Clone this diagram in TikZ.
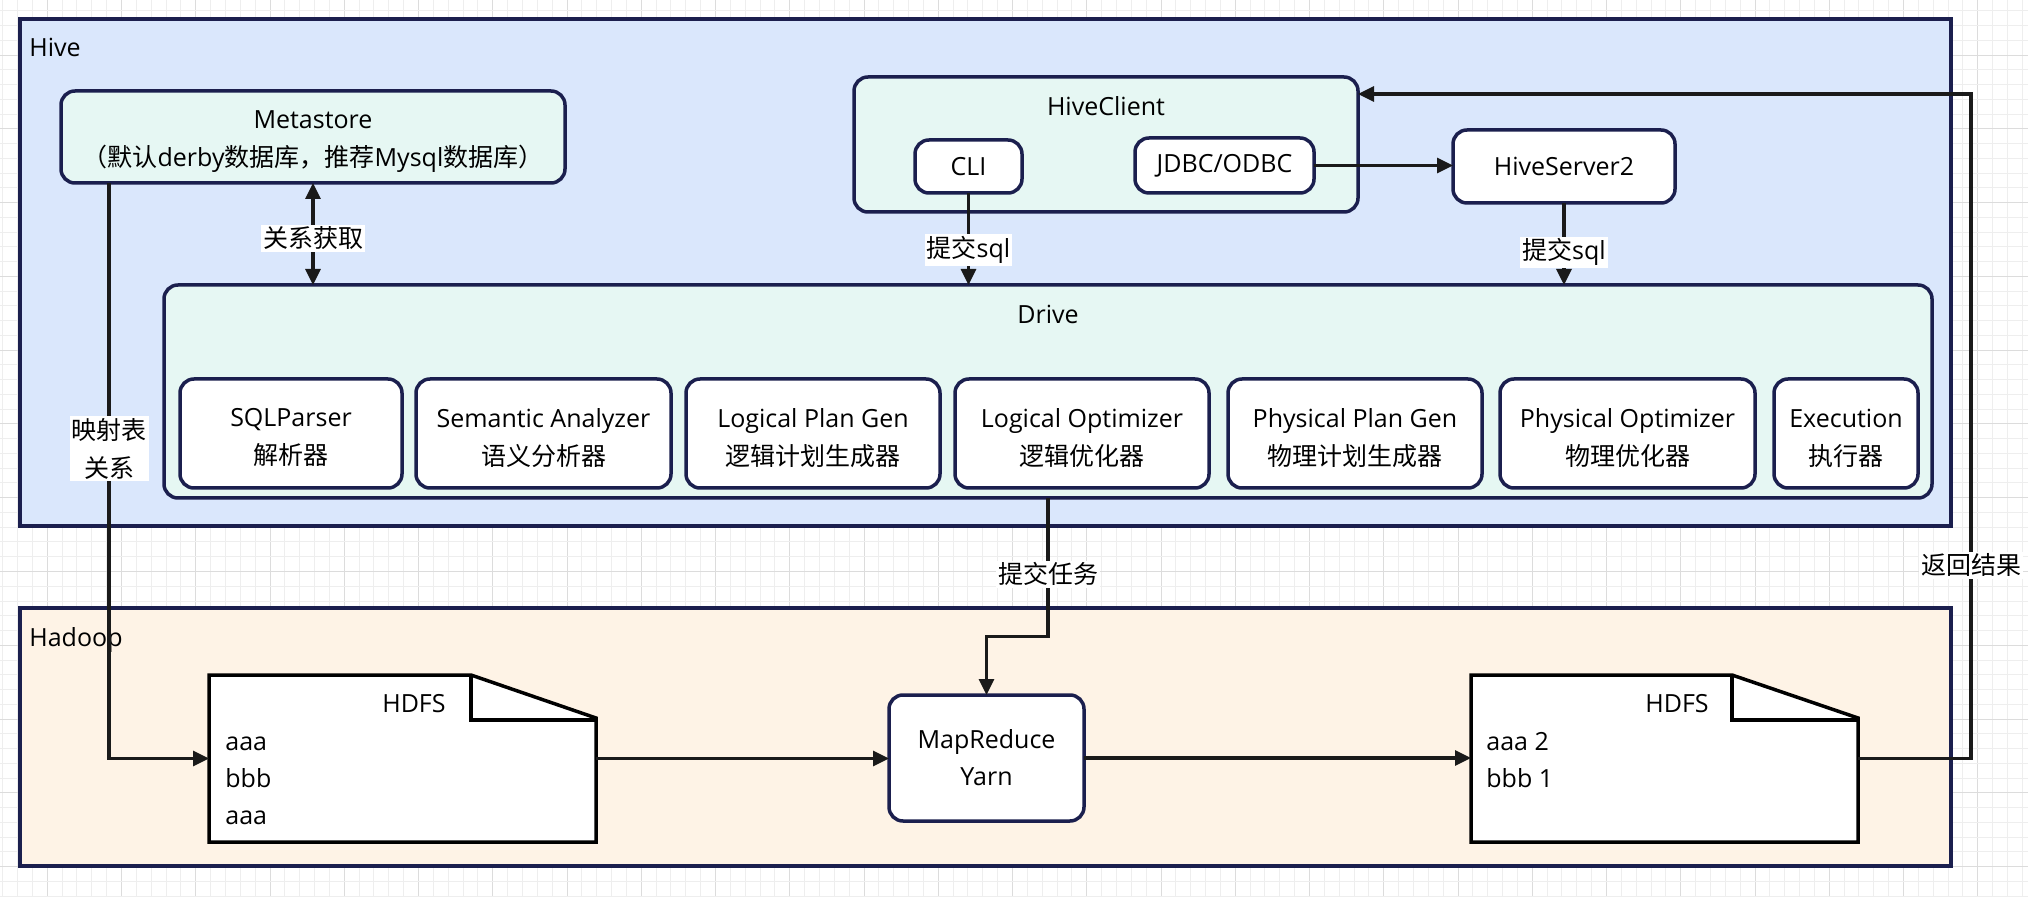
\documentclass[tikz,border=0pt]{standalone}
\usepackage{fontspec}
\setmainfont{Open Sans}
\newfontfamily\cjk{Noto Sans CJK SC}
\usetikzlibrary{arrows.meta,calc}
\definecolor{navy}{HTML}{1B1F4E}
\definecolor{hivebg}{HTML}{DAE7FC}
\definecolor{hadoopbg}{HTML}{FEF3E6}
\definecolor{mint}{HTML}{E6F7F3}
\definecolor{linec}{HTML}{1A1A1A}
\definecolor{gridminor}{HTML}{EEEEEE}
\definecolor{gridmajor}{HTML}{DCDCDC}
\tikzset{
  sz/.style 2 args={minimum width=#1*0.5pt, minimum height=#2*0.5pt},
  txt/.style={font=\fontsize{12.5}{19}\selectfont},
  plain/.style={txt, inner sep=0pt},
  container/.style={draw=navy, line width=1.9pt, inner sep=0pt, outer sep=0pt},
  rbox/.style={draw=navy, line width=1.75pt, rounded corners=7pt, fill=white,
    inner sep=0pt, outer sep=0pt, align=center, txt},
  tb/.style={label={[txt, align=center, yshift=-2.2pt]center:#1}},
  conn/.style={draw=linec, line width=1.6pt, ->},
  lbl/.style={fill=white, inner sep=1pt, align=center, txt},
  hdfsshape/.style={draw=black, line width=1.75pt, fill=white, line join=miter},
  >={Triangle[length=8pt,width=7.5pt]}
}
\begin{document}
\begin{tikzpicture}[x=0.5pt,y=-0.5pt]
\useasboundingbox[fill=white] (0,0) rectangle (2028,897);
% background grid
\foreach \i in {0,...,136}{
  \pgfmathtruncatemacro\m{mod(\i,5)}
  \ifnum\m=3 \def\gc{gridmajor}\else\def\gc{gridminor}\fi
  \draw[\gc, line width=0.5pt] ({2.7+14.85*\i},0) -- ({2.7+14.85*\i},897);
}
\foreach \j in {0,...,60}{
  \pgfmathtruncatemacro\m{mod(\j,5)}
  \ifnum\m=3 \def\gc{gridmajor}\else\def\gc{gridminor}\fi
  \draw[\gc, line width=0.5pt] (0,{11+14.75*\j}) -- (2028,{11+14.75*\j});
}
% containers
\node[container, fill=hivebg, sz={1931}{507}] (hive) at (985.5,272.5) {};
\node[plain, anchor=base west] (hivelbl) at (29,57) {Hive};
\node[container, fill=hadoopbg, sz={1931}{258}] (hadoop) at (985.5,737) {};
\node[plain, anchor=base west] (hadooplbl) at (29,646) {Hadoop};
% Hive parts
\node[rbox, fill=mint, sz={504}{92}, tb={Metastore\\{\cjk （默认}derby{\cjk 数据库，推荐}Mysql{\cjk 数据库）}}] (meta) at (313,137) {};
\node[rbox, fill=mint, sz={504}{135}] (client) at (1106,144.5) {};
\node[txt] (clientlbl) at (1106,106) {HiveClient};
\node[rbox, sz={107}{53}] (cli) at (968.5,166.5) {CLI};
\node[rbox, sz={179}{55}] (jdbc) at (1224.5,165.5) {JDBC/ODBC};
\node[rbox, sz={222}{73}] (hs2) at (1564,166.5) {HiveServer2};
\node[rbox, fill=mint, sz={1768}{213}] (drive) at (1048,391.5) {};
\node[txt] (drivelbl) at (1048,314) {Drive};
\node[rbox, sz={222}{109}, tb={SQLParser\\{\cjk 解析器}}] (s1) at (291,433.5) {};
\node[rbox, sz={255}{109}, tb={Semantic Analyzer\\{\cjk 语义分析器}}] (s2) at (543.5,433.5) {};
\node[rbox, sz={254}{109}, tb={Logical Plan Gen\\{\cjk 逻辑计划生成器}}] (s3) at (813,433.5) {};
\node[rbox, sz={254}{109}, tb={Logical Optimizer\\{\cjk 逻辑优化器}}] (s4) at (1082,433.5) {};
\node[rbox, sz={254}{109}, tb={Physical Plan Gen\\{\cjk 物理计划生成器}}] (s5) at (1355,433.5) {};
\node[rbox, sz={255}{109}, tb={Physical Optimizer\\{\cjk 物理优化器}}] (s6) at (1627.5,433.5) {};
\node[rbox, sz={144}{109}, tb={Execution\\{\cjk 执行器}}] (s7) at (1846,433.5) {};
% Hadoop parts
\node[rbox, sz={195}{126}, font=\fontsize{12.5}{18.5}\selectfont] (mr) at (986.5,758) {MapReduce\\Yarn};
\node[sz={387}{167}, inner sep=0pt, outer sep=0pt] (hdfs1) at (402.5,758.5) {};
\draw[hdfsshape] (hdfs1.north west) -- ++(262,0) -- ++(125,43) -- (hdfs1.south east)
  -- (hdfs1.south west) -- cycle;
\draw[hdfsshape, fill=none] ([xshift=131pt]hdfs1.north west) -- ++(0,45) -- ++(125,0);
\node[plain, anchor=base east] (h1t) at (446,712) {HDFS};
\node[plain, anchor=base west] (h1a) at (225,750) {aaa};
\node[plain, anchor=base west] (h1b) at (225,787) {bbb};
\node[plain, anchor=base west] (h1c) at (225,824) {aaa};
\node[sz={387}{167}, inner sep=0pt, outer sep=0pt] (hdfs2) at (1664.5,758.5) {};
\draw[hdfsshape] (hdfs2.north west) -- ++(261,0) -- ++(126,43) -- (hdfs2.south east)
  -- (hdfs2.south west) -- cycle;
\draw[hdfsshape, fill=none] ([xshift=130.5pt]hdfs2.north west) -- ++(0,45) -- ++(126,0);
\node[plain, anchor=base east] (h2t) at (1709,712) {HDFS};
\node[plain, anchor=base west] (h2a) at (1486,750) {aaa 2};
\node[plain, anchor=base west] (h2b) at (1486,787) {bbb 1};
% connectors
\draw[conn, <->] (meta.south) -- (meta.south |- drive.north)
  node[lbl, pos=0.54] {\cjk 关系获取};
\draw[conn] (cli.south) -- (cli.south |- drive.north)
  node[lbl, pos=0.62] {{\cjk 提交}sql};
\draw[conn] (jdbc.east) -- (jdbc.east -| hs2.west);
\draw[conn] (hs2.south) -- (hs2.south |- drive.north)
  node[lbl, pos=0.6] {{\cjk 提交}sql};
\coordinate (m0) at ([xshift=24pt]meta.south west);
\draw[conn] (m0) |- (hdfs1.west);
\node[lbl] (maplbl) at ($(m0)!0.462!(m0 |- hdfs1.west)$) {\cjk 映射表\\\cjk 关系};
\path (drive.south |- mr.north) coordinate (t0);
\coordinate (t1) at ($(drive.south)!0.704!(t0)$);
\draw[conn] (drive.south) -- (t1) -| (mr.north);
\node[lbl] (tasklbl) at ($(drive.south)!0.55!(t1)$) {\cjk 提交任务};
\draw[conn] (hdfs1.east) -- (hdfs1.east -| mr.west);
\draw[conn] (mr.east) -- (mr.east -| hdfs2.west);
\coordinate (r1) at ($(hdfs2.east)+(113,0)$);
\coordinate (r2) at ([yshift=25.25pt]client.east);
\draw[conn] (hdfs2.east) -- (r1) |- (r2);
\node[lbl] (retlbl) at ($(r1)!0.291!(r1 |- r2)$) {\cjk 返回结果};
\end{tikzpicture}
\end{document}
